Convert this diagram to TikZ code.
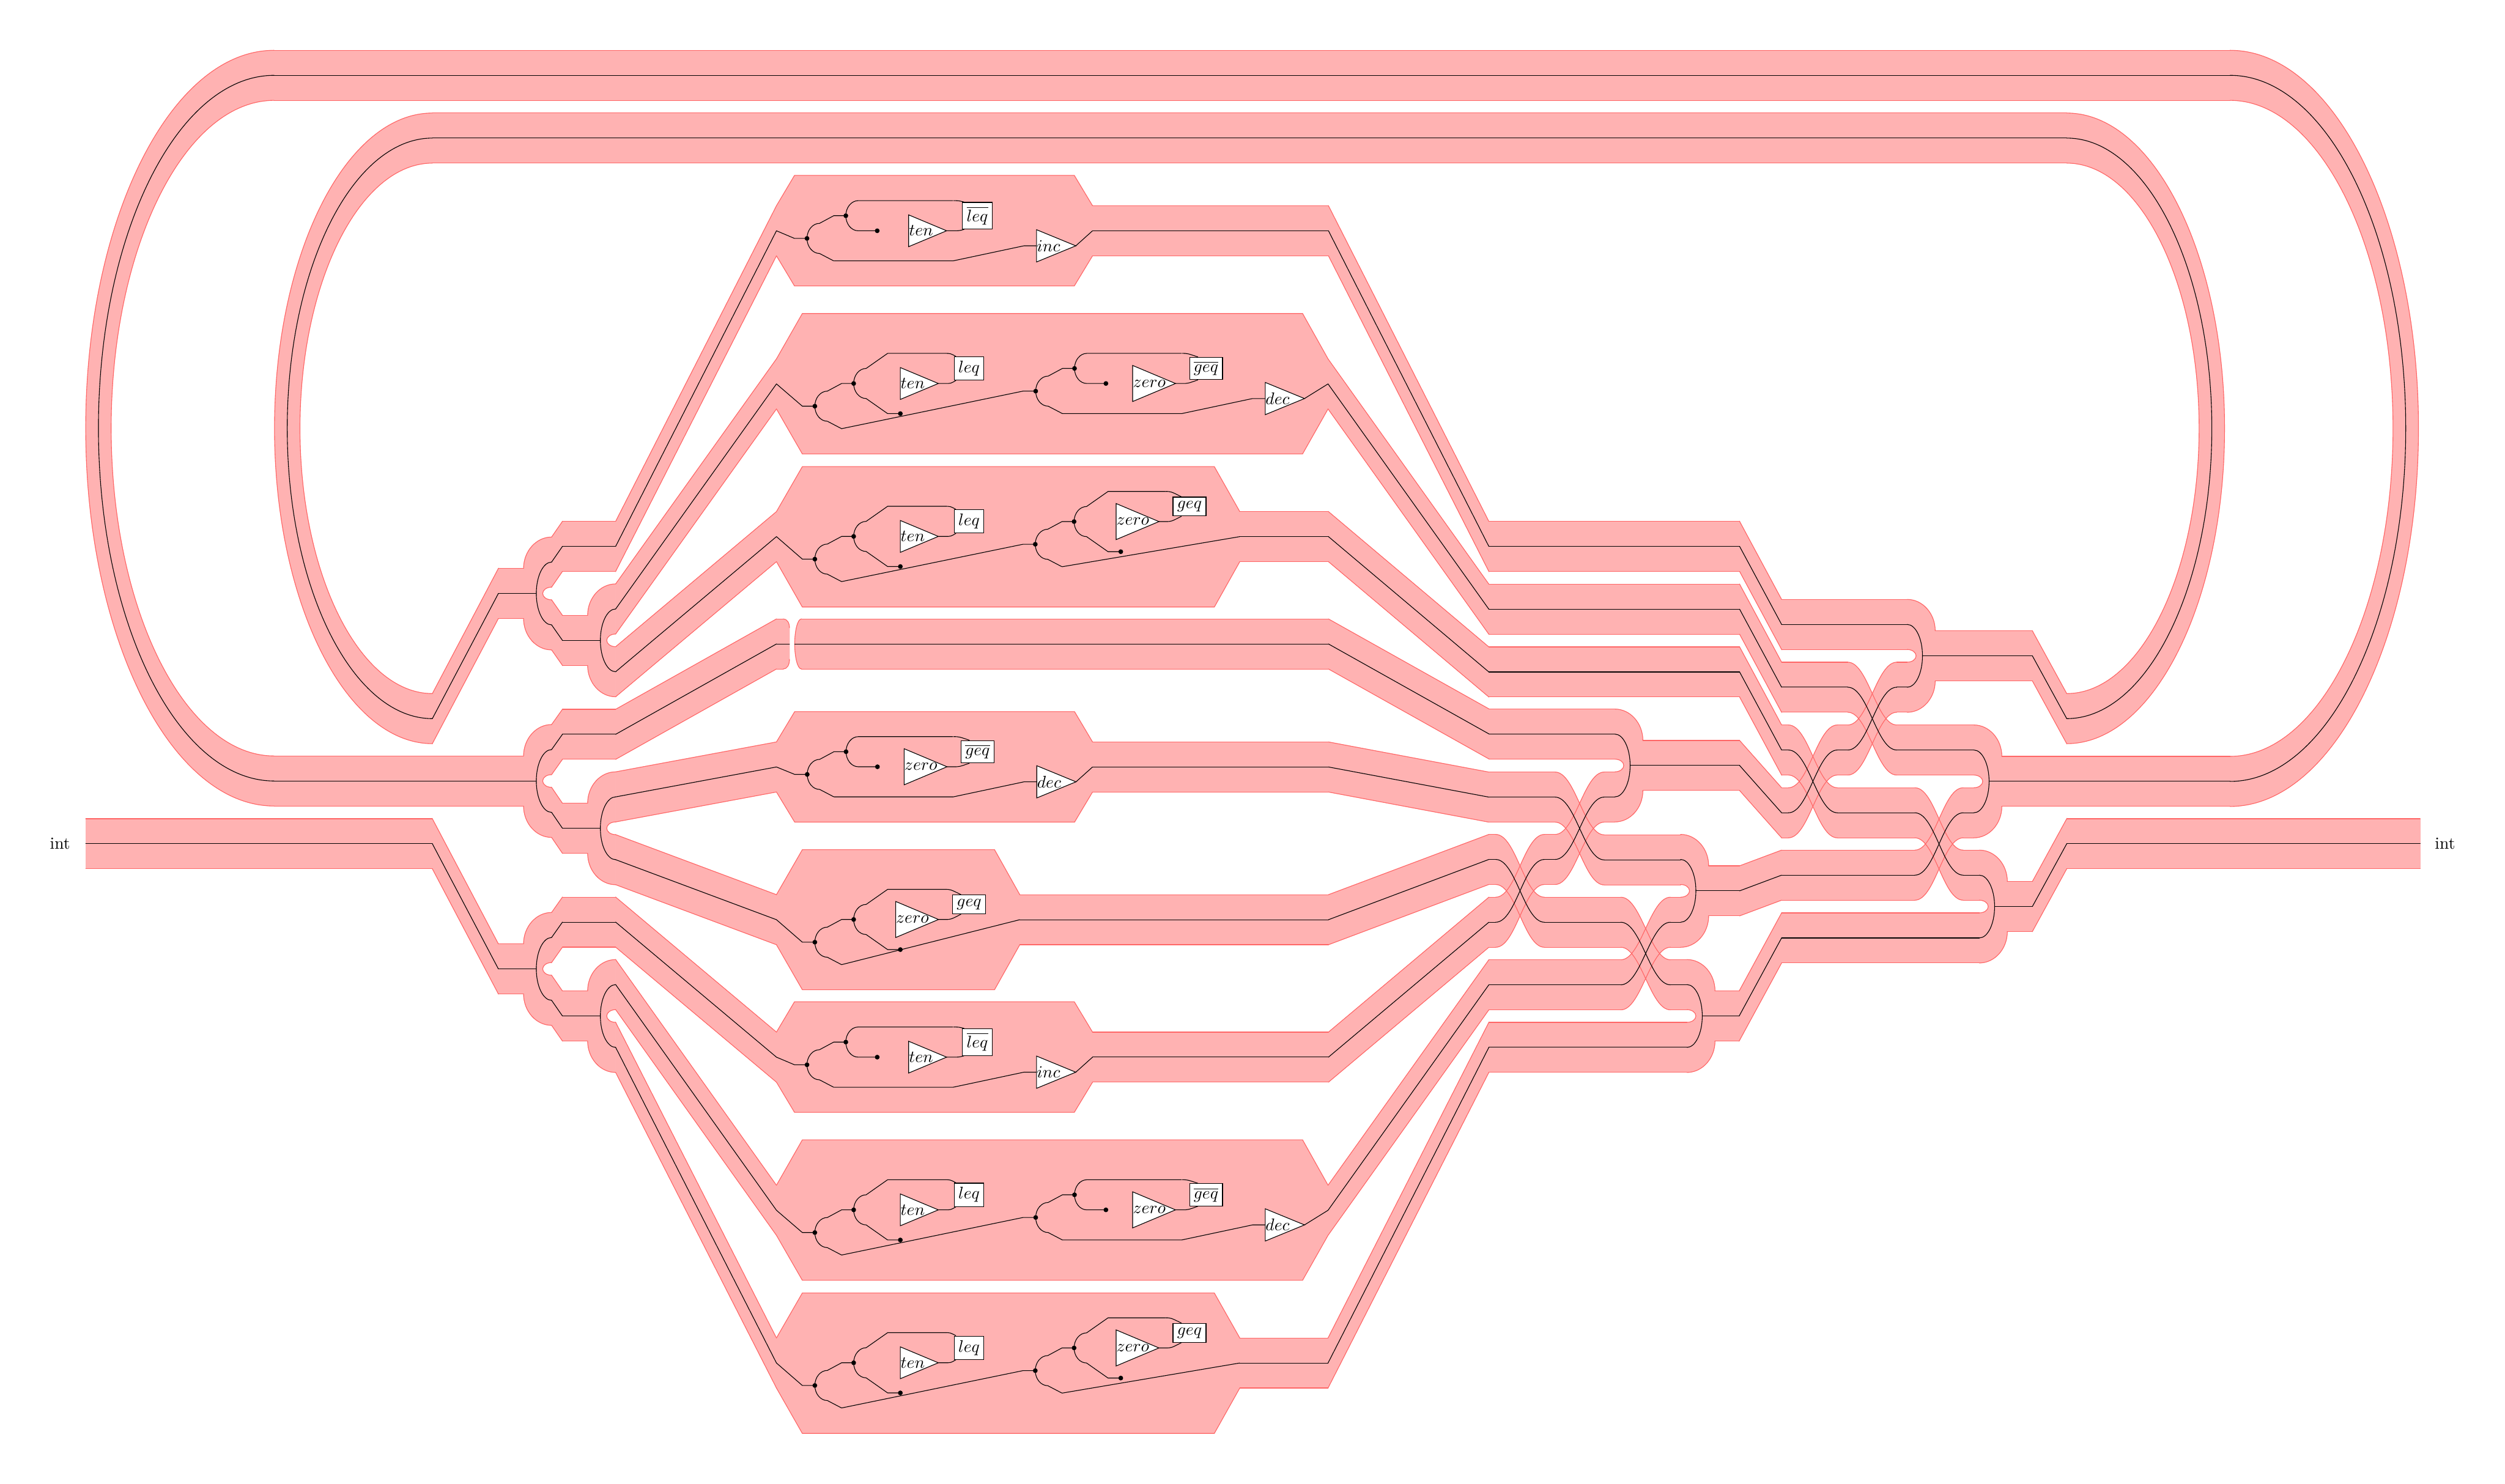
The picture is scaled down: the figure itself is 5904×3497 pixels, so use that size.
\documentclass[tikz,border=0pt]{standalone}
\pgfdeclarelayer{fills}
\pgfdeclarelayer{edges}
\pgfsetlayers{fills,edges,main}
\tikzset{
  bandfill/.style={fill=red!30,draw=red!30,line width=0.3pt},
  bandline/.style={draw=red!60,line cap=round},
  wire/.style={draw=black,line cap=round},
  dotn/.style={circle,fill=black,inner sep=0pt,minimum size=2.8pt},
  testbox/.style={draw,fill=white,inner sep=2.45pt},
}
% quarter ellipses, relative to the current point
\newcommand{\VH}[2]{.. controls +(0,{.55*(#2)}) and +({-.55*(#1)},0) .. ++({#1},{#2})}
\newcommand{\HV}[2]{.. controls +({.55*(#1)},0) and +(0,{-.55*(#2)}) .. ++({#1},{#2})}
% band pieces: fill below, edges above it, wire on top
\newcommand{\seg}[4]{%
  \begin{pgfonlayer}{fills}
    \path[bandfill] (#1,{#2-\hb}) -- (#3,{#4-\hb}) -- (#3,{#4+\hb}) -- (#1,{#2+\hb}) -- cycle;
  \end{pgfonlayer}
  \begin{pgfonlayer}{edges}
    \draw[bandline] (#1,{#2-\hb}) -- (#3,{#4-\hb});
    \draw[bandline] (#1,{#2+\hb}) -- (#3,{#4+\hb});
  \end{pgfonlayer}
  \draw[wire] (#1,#2) -- (#3,#4);}
\newcommand{\strand}[1]{%
  \foreach \x/\y [remember=\x as \lx, remember=\y as \ly, count=\n] in {#1}{%
    \ifnum\n>1 \seg{\lx}{\ly}{\x}{\y}\fi}}
\newcommand{\twist}[4]{%
  \begin{pgfonlayer}{fills}
    \path[bandfill] (#1,{#2-\hb}) .. controls +(48,0) and +(-48,0) .. (#3,{#4-\hb}) -- (#3,{#4+\hb})
      .. controls +(-48,0) and +(48,0) .. (#1,{#2+\hb}) -- cycle;
  \end{pgfonlayer}
  \begin{pgfonlayer}{edges}
    \draw[bandline] (#1,{#2-\hb}) .. controls +(48,0) and +(-48,0) .. (#3,{#4-\hb});
    \draw[bandline] (#1,{#2+\hb}) .. controls +(48,0) and +(-48,0) .. (#3,{#4+\hb});
  \end{pgfonlayer}
  \draw[wire] (#1,#2) .. controls +(48,0) and +(-48,0) .. (#3,#4);}
% split or merge of a band, side 1 bulges right, side -1 bulges left
\newcommand{\joinat}[3]{%
  \begin{scope}[shift={(#1,#2)},xscale=#3]
    \begin{pgfonlayer}{fills}
      \path[bandfill] (66,-59) \VH{-66}{-74} -- (0,-15) \HV{21}{15} \VH{-21}{15} -- (0,133) \HV{66}{-74} -- cycle;
    \end{pgfonlayer}
    \begin{pgfonlayer}{edges}
      \draw[bandline] (66,-59) \VH{-66}{-74};
      \draw[bandline] (0,-15) \HV{21}{15} \VH{-21}{15};
      \draw[bandline] (0,133) \HV{66}{-74};
    \end{pgfonlayer}
    \draw[wire] (0,-74) \HV{36}{74} \VH{-36}{74};
    \draw[wire] (36,0) -- (66,0);
  \end{scope}}
% half of a feedback loop
\newcommand{\halfloop}[5]{%
  \pgfmathsetmacro\ym{(#2+#3)/2}
  \pgfmathsetmacro\ry{(#3-#2)/2}
  \begin{scope}[shift={(#1,\ym)},xscale=#5]
    \begin{pgfonlayer}{fills}
      \path[bandfill] (0,{-\ry-\hb}) \HV{#4+30}{\ry+\hb} \VH{-(#4+30)}{\ry+\hb} -- (0,{\ry-\hb})
        \HV{#4-30}{-(\ry-\hb)} \VH{-(#4-30)}{-(\ry-\hb)} -- cycle;
    \end{pgfonlayer}
    \begin{pgfonlayer}{edges}
      \draw[bandline] (0,{-\ry-\hb}) \HV{#4+30}{\ry+\hb} \VH{-(#4+30)}{\ry+\hb};
      \draw[bandline] (0,{\ry-\hb}) \HV{#4-30}{-(\ry-\hb)} \VH{-(#4-30)}{-(\ry-\hb)};
    \end{pgfonlayer}
    \draw[wire] (0,-\ry) \HV{#4}{\ry} \VH{-(#4)}{\ry};
  \end{scope}}
% wide part round a stage: yL, xbL, xbR, xR, yR, top, bottom
\newcommand{\padband}[7]{%
  \begin{pgfonlayer}{fills}
    \path[bandfill] (1830,{#1-\hb}) -- (#2,#6) -- (#3,#6) -- (#4,{#5-\hb}) -- (#4,{#5+\hb}) -- (#3,#7) -- (#2,#7) -- (1830,{#1+\hb}) -- cycle;
  \end{pgfonlayer}
  \begin{pgfonlayer}{edges}
    \draw[bandline] (1830,{#1-\hb}) -- (#2,#6) -- (#3,#6) -- (#4,{#5-\hb});
    \draw[bandline] (1830,{#1+\hb}) -- (#2,#7) -- (#3,#7) -- (#4,{#5+\hb});
  \end{pgfonlayer}}
% triangle gate: name, left x, axis y, width, half height, text
\newcommand{\tri}[6]{%
  \coordinate (#1-in) at (#2,#3);
  \coordinate (#1-out) at ({#2+#4},#3);
  \filldraw[fill=white] (#2,{#3-#5}) -- (#1-out) -- (#2,{#3+#5}) -- cycle;
  \node[anchor=west,inner sep=0pt] (#1) at (#1-in) {$#6$};}
\newcommand{\setten}{\def\gname{ten}\def\gleft{110}\def\gwd{89.5}\def\ghh{37.5}\def\gtouch{241}}
\newcommand{\setzero}{\def\gname{zero}\def\gleft{99}\def\gwd{101}\def\ghh{42.5}\def\gtouch{253}}
\newcommand{\gatecore}[2]{%
  \tri{#1t}{\gleft}{0}{\gwd}{\ghh}{\gname}
  \node[testbox] (#1b) at (272,-35.5) {$#2$};
  \draw (215,-71) .. controls (228,-71) .. (\gtouch,0 |- #1b.north);
  \draw (#1t-out) -- (216,0) .. controls (229,0) .. (\gtouch,0 |- #1b.south);}
\newcommand{\splitdot}[1]{%
  \node[dotn] (#1d) at (0,0) {};
  \node[dotn] (#1u) at (91.5,-53.5) {};
  \coordinate (#1l) at (63,53);
  \draw (#1d.center) \VH{29.5}{-35.5} -- (63,-53.5) -- (#1u.center);
  \draw (#1d.center) \VH{29.5}{35.5} -- (#1l);}
% stage with a short discard stub and a last gate
\newcommand{\stageA}[5]{%
  \begin{scope}[shift={(#2,#3)}]
    \splitdot{#1}
    \begin{scope}[shift={(91.5,-53.5)}]
      \node[dotn] (#1x) at (74,35.5) {};
      \draw (#1u.center) \VH{29}{-35.5} -- (252,-35.5);
      \draw (#1u.center) \VH{29}{35.5} -- (#1x.center);
      \begin{scope}[shift={(38,35.5)}]
        \gatecore{#1g}{#4}
      \end{scope}
    \end{scope}
    \tri{#1z}{541}{17.5}{92.5}{38}{#5}
    \draw (#1l) -- (344,53) -- (511,17.5) -- (#1z-in);
  \end{scope}}
% stage with the wide fork and no last gate
\newcommand{\stageB}[4]{%
  \begin{scope}[shift={(#2,#3)}]
    \splitdot{#1}
    \begin{scope}[shift={(91.5,-53.5)}]
      \node[dotn] (#1x) at (110,71) {};
      \draw (#1u.center) \VH{29.4}{-35.5} -- (80,-71) -- (215,-71);
      \draw (#1u.center) \VH{29.4}{35.5} -- (80,71) -- (#1x.center);
      \gatecore{#1g}{#4}
    \end{scope}
  \end{scope}}
\begin{document}
\begin{tikzpicture}[x=0.25bp,y=-0.25bp]
  \def\hb{59} % half height of a band
  \useasboundingbox (0,0) rectangle (5904,3497);
  % outer loop
  \halfloop{646}{177.6}{1841}{414}{-1}
  \seg{646}{177.6}{5256}{177.6}
  \halfloop{5256}{177.6}{1842}{414}{1}
  \seg{646}{1841}{1234}{1841}
  \seg{4718}{1842}{5256}{1842}
  % inner loop
  \halfloop{1019}{325.5}{1694}{342}{-1}
  \seg{1019}{325.5}{4871}{325.5}
  \halfloop{4871}{325.5}{1694}{342}{1}
  \strand{1019/1694,1174.6/1399,1234/1399}
  \strand{4561/1546,4790/1546,4871/1694}
  % inputs and outputs
  \node[anchor=east,inner sep=0pt] (intL) at (166,1989) {int};
  \node[anchor=west,inner sep=0pt] (intR) at (5738,1989) {int};
  \strand{202/1989,1019/1989,1174.6/2284,1234/2284}
  \strand{4731/2137,4790/2137,4871/1989,5704/1989}
  % splits on the left
  \foreach \jx/\jy in {1300/1399,1451/1509.5,1300/1841,1451/1952.5,1300/2284,1451/2395}
    {\joinat{\jx}{\jy}{-1}}
  \strand{1300/1325,1325.6/1288,1451/1288,1830/544}
  \strand{1300/1473,1325.6/1509.5,1385/1509.5}
  \strand{1451/1435.5,1830/905}
  \strand{1451/1583.5,1830/1265}
  \strand{1300/1767,1325.6/1731,1451/1731,1830/1518,1846/1518}
  \strand{1300/1915,1325.6/1952.5,1385/1952.5}
  \strand{1451/1878.5,1830/1808}
  \strand{1451/2026.5,1830/2168}
  \strand{1300/2210,1325.6/2173.7,1451/2173.7,1830/2492}
  \strand{1300/2358,1325.6/2395,1385/2395}
  \strand{1451/2321,1830/2853}
  \strand{1451/2469,1830/3213}
  % merges on the right
  \foreach \jx/\jy in {4495/1546,3806/1804.5,4652/1842,4665/2137,3961/2100,3976/2395}
    {\joinat{\jx}{\jy}{1}}
  % the cut band
  \begin{pgfonlayer}{fills}
    \path[bandfill] (1846,1459) .. controls (1855,1459) and (1860.6,1468) .. (1860.6,1480) -- (1860.6,1554)
      .. controls (1860.6,1568) and (1855,1577) .. (1846,1577) -- cycle;
    \path[bandfill] (1889,1459) .. controls (1879,1459) and (1873,1490) .. (1873,1518)
      .. controls (1873,1546) and (1879,1577) .. (1889,1577) -- cycle;
  \end{pgfonlayer}
  \begin{pgfonlayer}{edges}
    \draw[bandline] (1846,1459) .. controls (1855,1459) and (1860.6,1468) .. (1860.6,1480);
    \draw[bandline] (1860.6,1554) .. controls (1860.6,1568) and (1855,1577) .. (1846,1577);
    \draw[bandline] (1889,1459) .. controls (1879,1459) and (1873,1490) .. (1873,1518)
      .. controls (1873,1546) and (1879,1577) .. (1889,1577);
  \end{pgfonlayer}
  \draw[wire] (1846,1518) -- (1860.6,1518);
  \draw[wire] (1873,1518) -- (1889,1518);
  \strand{1889/1518,3131/1518,3510/1730.5,3806/1730.5}
  % routes to the merges
  \strand{2575/544,3131/544,3509/1288,4100/1288,4199/1472,4495/1472}
  \strand{3130/905,3509/1436,4100/1436,4199/1620,4355/1620}
  \twist{4355}{1620}{4470.5}{1768}
  \strand{4470.5/1768,4652/1768}
  \strand{2922/1265,3131/1265,3509/1584,4100/1584,4199/1768,4215/1768}
  \twist{4215}{1768}{4330.5}{1916}
  \strand{4330.5/1916,4513/1916}
  \twist{4513}{1916}{4627}{2063}
  \strand{4627/2063,4665/2063}
  \strand{3872/1804.5,4100/1804.5,4199/1916,4215/1916}
  \twist{4215}{1916}{4330.5}{1768}
  \strand{4330.5/1768,4355/1768}
  \twist{4355}{1768}{4470.5}{1620}
  \strand{4470.5/1620,4495/1620}
  \strand{2575/1808,3131/1808,3509/1879,3665/1879}
  \twist{3665}{1879}{3781}{2027}
  \strand{3781/2027,3961/2027}
  \strand{2403.5/2168,3131/2168,3509/2026,3525/2026}
  \twist{3525}{2026}{3640}{2174}
  \strand{3640/2174,3820/2174}
  \twist{3820}{2174}{3937}{2321.5}
  \strand{3937/2321.5,3976/2321.5}
  \strand{2575/2492,3131/2492,3509/2174,3525/2174}
  \twist{3525}{2174}{3640}{2026}
  \strand{3640/2026,3665/2026}
  \twist{3665}{2026}{3781}{1879}
  \strand{3781/1879,3806/1879}
  \strand{3130/2853,3509/2321.5,3820/2321.5}
  \twist{3820}{2321.5}{3937}{2174}
  \strand{3937/2174,3961/2174}
  \strand{2922/3213,3130/3213,3509/2469,3976/2469}
  \strand{4027/2100,4100/2100,4199/2063,4513/2063}
  \twist{4513}{2063}{4627}{1916}
  \strand{4627/1916,4652/1916}
  \strand{4042/2395,4099/2395,4199/2211,4665/2211}
  % rows one and six
  \foreach \sy/\pre in {0/a,1948/f}{
    \padband{544+\sy}{1872.5}{2532}{2575}{544+\sy}{413.5+\sy}{674+\sy}
    \setten
    \stageA{\pre}{1902}{562+\sy}{\overline{leq}}{inc}
    \draw (1830,544+\sy) -- (1872.5,562+\sy) -- (\pre d.center);
    \draw (\pre z-out) -- (2575,544+\sy);
  }
  % rows two and seven
  \foreach \sy/\pre in {0/b,1948/g}{
    \padband{905+\sy}{1891}{3070}{3130}{905+\sy}{739+\sy}{1070+\sy}
    \setten
    \stageB{\pre}{1920.5}{957.5+\sy}{leq}
    \setzero
    \stageA{\pre n}{2441}{922+\sy}{\overline{geq}}{dec}
    \draw (1830,905+\sy) -- (1891,957.5+\sy) -- (\pre d.center);
    \draw (\pre l) -- (2411,922+\sy) -- (\pre nd.center);
    \draw (\pre nz-out) -- (3130,905+\sy);
  }
  % rows three and eight
  \foreach \sy/\pre in {0/c,1948/h}{
    \padband{1265+\sy}{1891}{2862}{2922}{1265+\sy}{1100+\sy}{1431+\sy}
    \setten
    \stageB{\pre}{1920.5}{1318+\sy}{leq}
    \setzero
    \stageB{\pre n}{2440}{1283+\sy}{geq}
    \draw (1830,1265+\sy) -- (1891,1318+\sy) -- (\pre d.center);
    \draw (\pre l) -- (2411,1283+\sy) -- (\pre nd.center);
    \draw (\pre nl) -- (2922,1265+\sy);
  }
  % row four
  \padband{1808}{1873}{2532.5}{2575}{1808}{1677.5}{1938}
  \setzero
  \stageA{d}{1902.5}{1825.5}{\overline{geq}}{dec}
  \draw (1830,1808) -- (1873,1825.5) -- (dd.center);
  \draw (dz-out) -- (2575,1808);
  % row five
  \padband{2168}{1891}{2344}{2403.5}{2168}{2003}{2333}
  \setzero
  \stageB{e}{1920.5}{2221}{geq}
  \draw (1830,2168) -- (1891,2221) -- (ed.center);
  \draw (el) -- (2403.5,2168);
\end{tikzpicture}
\end{document}
